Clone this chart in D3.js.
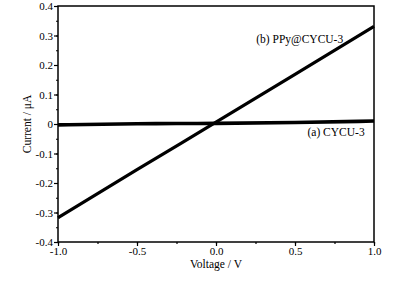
<!DOCTYPE html>
<html>
<head>
<meta charset="utf-8">
<script src="https://cdn.jsdelivr.net/npm/d3@7"></script>
<style>
  body { margin: 0; background: #fff; }
  svg text { font-family: "Liberation Serif", "Times New Roman", serif; fill: #000; }
</style>
</head>
<body>
<svg id="iv" width="395" height="285"></svg>
<script>
// data
const voltage = [-1.0, -0.5, 0.0, 0.5, 1.0];
const currentB = [-0.318, -0.155, 0.006, 0.168, 0.331];   // PPy@CYCU-3
const currentA = [-0.003, 0.001, 0.002, 0.005, 0.010];     // CYCU-3
const xTicks = [-1.0, -0.5, 0.0, 0.5, 1.0];
const yTicks = [-0.4, -0.3, -0.2, -0.1, 0, 0.1, 0.2, 0.3, 0.4];
const seriesLabels = ['(a) CYCU-3', '(b) PPy@CYCU-3'];

const svg = d3.select('svg#iv');
const margin = { top: 6, right: 21, bottom: 43, left: 58 };
const innerWidth = 395 - margin.left - margin.right;
const innerHeight = 285 - margin.top - margin.bottom;
const serif = '"Liberation Serif", "Times New Roman", serif';

const g = svg.append('g')
  .attr('transform', `translate(${margin.left},${margin.top})`);

const xScale = d3.scaleLinear().domain([-1, 1]).range([0, innerWidth]);
const yScale = d3.scaleLinear().domain([-0.4, 0.4]).range([innerHeight, 0]);

// plain hyphen instead of the unicode minus
const fmtX = d => d === 0 ? '0.0' : d.toFixed(1);
const fmtY = d => Math.abs(d) < 1e-9 ? '0' : d.toFixed(1);

// minor ticks first
g.append('g')
  .attr('transform', `translate(0,${innerHeight})`)
  .call(d3.axisBottom(xScale).tickValues(d3.range(-1, 1.01, 0.25)).tickSize(2).tickFormat(''))
  .call(a => a.select('.domain').remove());
g.append('g')
  .call(d3.axisLeft(yScale).tickValues(d3.range(-0.4, 0.41, 0.05)).tickSize(2).tickFormat(''))
  .call(a => a.select('.domain').remove());

const xAxis = g.append('g')
  .attr('transform', `translate(0,${innerHeight})`)
  .call(d3.axisBottom(xScale).tickValues(xTicks).tickSize(4).tickPadding(1).tickFormat(fmtX));
const yAxis = g.append('g')
  .call(d3.axisLeft(yScale).tickValues(yTicks).tickSize(4).tickPadding(1).tickFormat(fmtY));

[xAxis, yAxis].forEach(a => {
  a.attr('font-family', serif);
  a.selectAll('text').style('font-size', '11px').style('font-family', serif);
  a.select('.domain').remove();
});
g.selectAll('.tick line').attr('stroke', '#000').attr('stroke-width', 1.2);

// frame
g.append('rect')
  .attr('width', innerWidth).attr('height', innerHeight)
  .attr('fill', 'none').attr('stroke', '#000').attr('stroke-width', 1.5);

const line = d3.line()
  .x((d, i) => xScale(voltage[i]))
  .y(d => yScale(d))
  .curve(d3.curveMonotoneX);

g.append('path').datum(currentA)
  .attr('d', line).attr('fill', 'none')
  .attr('stroke', '#000').attr('stroke-width', 3.6);
g.append('path').datum(currentB)
  .attr('d', line).attr('fill', 'none')
  .attr('stroke', '#000').attr('stroke-width', 3.2);

g.append('text')
  .attr('x', xScale(0.76)).attr('y', yScale(-0.039))
  .attr('text-anchor', 'middle')
  .style('font-size', '11.5px').style('font-family', serif)
  .text(seriesLabels[0]);
g.append('text')
  .attr('x', xScale(0.53)).attr('y', yScale(0.275))
  .attr('text-anchor', 'middle')
  .style('font-size', '11.5px').style('font-family', serif)
  .text(seriesLabels[1]);

// axis labels
svg.append('text')
  .attr('x', margin.left + innerWidth / 2).attr('y', 268)
  .attr('text-anchor', 'middle')
  .style('font-size', '11.5px').style('font-family', serif)
  .text('Voltage / V');
svg.append('text')
  .attr('transform', `translate(31,${margin.top + innerHeight / 2}) rotate(-90)`)
  .attr('text-anchor', 'middle')
  .style('font-size', '11.5px').style('font-family', serif)
  .text('Current / μA');
</script>
</body>
</html>
